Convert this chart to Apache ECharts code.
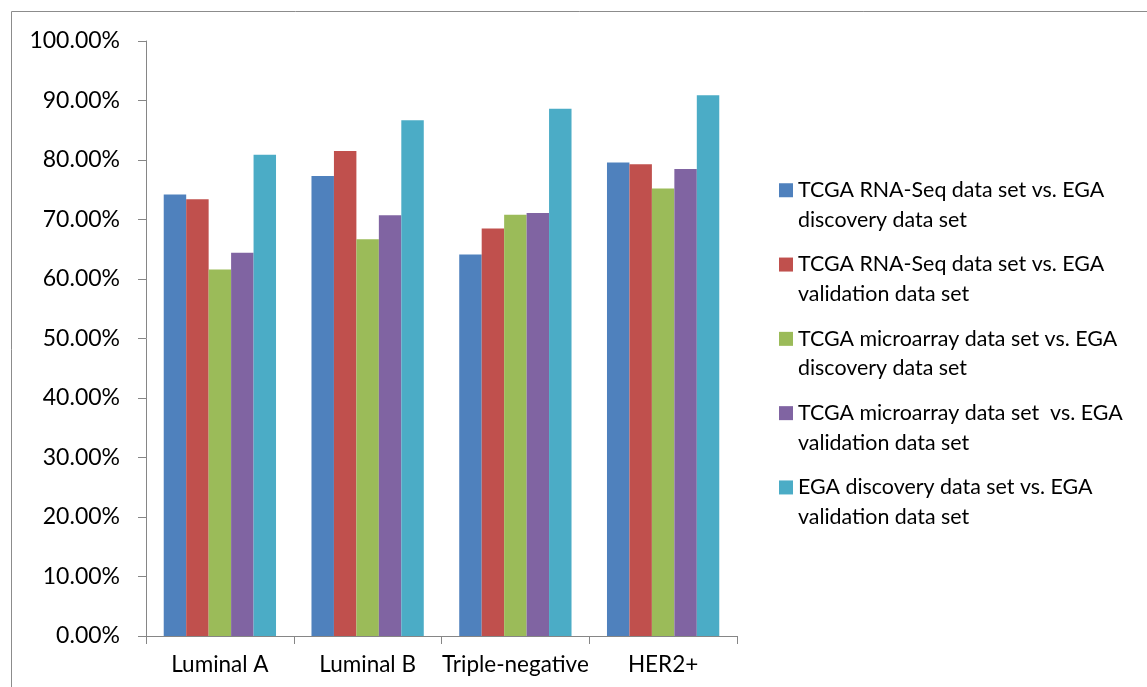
<!DOCTYPE html>
<html>
<head>
<meta charset="utf-8">
<script src="https://cdn.jsdelivr.net/npm/echarts@6/dist/echarts.min.js"></script>
<style>
html,body{margin:0;padding:0;background:#fff;}
#chart{width:1147px;height:687px;}
</style>
</head>
<body>
<div id="chart"></div>
<script>
var categories = ['Luminal A', 'Luminal B', 'Triple-negative', 'HER2+'];
var seriesNames = [
  'TCGA RNA-Seq data set vs. EGA\ndiscovery data set',
  'TCGA RNA-Seq data set vs. EGA\nvalidation data set',
  'TCGA microarray data set vs. EGA\ndiscovery data set',
  'TCGA microarray data set  vs. EGA\nvalidation data set',
  'EGA discovery data set vs. EGA\nvalidation data set'
];
var rnaSeqVsDiscovery = [74.2, 77.3, 64.1, 79.6];
var rnaSeqVsValidation = [73.4, 81.5, 68.5, 79.3];
var microarrayVsDiscovery = [61.6, 66.7, 70.8, 75.2];
var microarrayVsValidation = [64.4, 70.7, 71.1, 78.5];
var discoveryVsValidation = [80.9, 86.7, 88.6, 90.9];
var colors = ['#4F81BD', '#C0504D', '#9BBB59', '#8064A2', '#4BACC6'];

var seriesValues = [rnaSeqVsDiscovery, rnaSeqVsValidation, microarrayVsDiscovery, microarrayVsValidation, discoveryVsValidation];
var FONT = 'Lato';

var chart = echarts.init(document.getElementById('chart'));
chart.setOption({
  animation: false,
  color: colors,
  textStyle: { fontFamily: FONT },
  graphic: [{
    type: 'rect',
    shape: { x: 11.5, y: 11.5, width: 1150, height: 700 },
    style: { fill: 'none', stroke: '#8c8c8c', lineWidth: 1 },
    silent: true
  }],
  grid: { left: 146, top: 41, right: 410, bottom: 51, containLabel: false },
  legend: {
    orient: 'vertical',
    left: 779,
    top: 146,
    padding: 0,
    itemWidth: 14,
    itemHeight: 14,
    itemGap: -14.2,
    icon: 'rect',
    formatter: function (name) { return '\n' + name; },
    textStyle: { fontFamily: FONT, fontSize: 21.4, color: '#000', lineHeight: 29.5 },
    data: seriesNames
  },
  xAxis: {
    type: 'category',
    data: categories,
    axisLine: { lineStyle: { color: '#868686', width: 1 } },
    axisTick: { show: true, length: 8, lineStyle: { color: '#868686' } },
    axisLabel: { color: '#000', fontFamily: FONT, fontSize: 22.5, margin: 17, interval: 0 }
  },
  yAxis: {
    type: 'value',
    min: 0,
    max: 100,
    interval: 10,
    splitLine: { show: false },
    axisLine: { show: true, lineStyle: { color: '#868686', width: 1 } },
    axisTick: { show: true, length: 8, lineStyle: { color: '#868686' } },
    axisLabel: {
      color: '#000', fontFamily: FONT, fontSize: 23, margin: 26,
      formatter: function (v) { return v.toFixed(2) + '%'; }
    }
  },
  series: seriesNames.map(function (n, i) {
    return {
      name: n,
      type: 'bar',
      data: seriesValues[i],
      barGap: '0%',
      barCategoryGap: '24%',
      itemStyle: { color: colors[i] }
    };
  })
});
</script>
</body>
</html>
